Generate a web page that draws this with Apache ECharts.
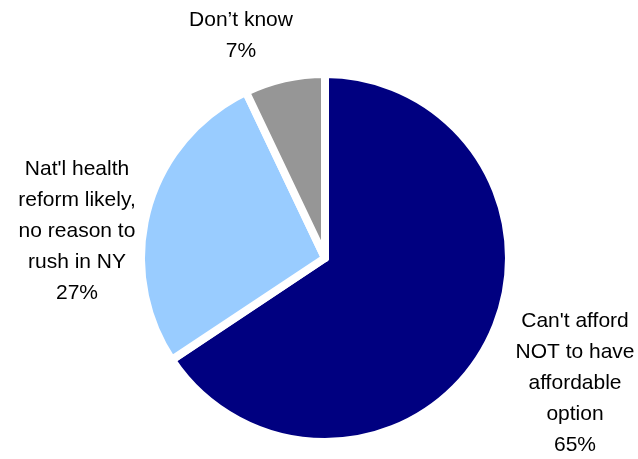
<!DOCTYPE html>
<html>
<head>
<meta charset="utf-8">
<script src="https://cdn.jsdelivr.net/npm/echarts@6/dist/echarts.min.js"></script>
<style>
html,body{margin:0;padding:0;background:#fff;}
#chart{width:638px;height:459px;}
</style>
</head>
<body>
<div id="chart"></div>
<script>
// 数据
var names = ["Can't afford\nNOT to have\naffordable\noption", "Nat'l health\nreform likely,\nno reason to\nrush in NY", "Don\u2019t know"];
var values = [65, 27, 7];
var colors = ['#000080', '#99CCFF', '#969696'];

// 标签位置
var labelPos = [[575, 383], [77, 231], [241, 36]];

var data = [];
for (var i = 0; i < names.length; i++) {
	data.push({name: names[i], value: values[i], itemStyle: {color: colors[i]}});
}

var chart = echarts.init(document.getElementById('chart'));
var option = {
	animation: false,
	series: [{
		type: 'pie',
		center: [325, 258],
		radius: 184,
		startAngle: 90,
		clockwise: true,
		data: data,
		itemStyle: {borderColor: '#fff', borderWidth: 8},
		label: {
			show: true,
			position: 'outside',
			formatter: '{b}\n{c}%',
			fontFamily: 'Liberation Sans',
			fontSize: 21,
			lineHeight: 31,
			color: '#000',
			align: 'center',
			overflow: 'none',
			width: 200
		},
		labelLine: {show: false},
		labelLayout: function (p) {
			var pos = labelPos[p.dataIndex];
			return {x: pos[0], y: pos[1], align: 'center', verticalAlign: 'middle'};
		}
	}]
};
chart.setOption(option);
</script>
</body>
</html>
